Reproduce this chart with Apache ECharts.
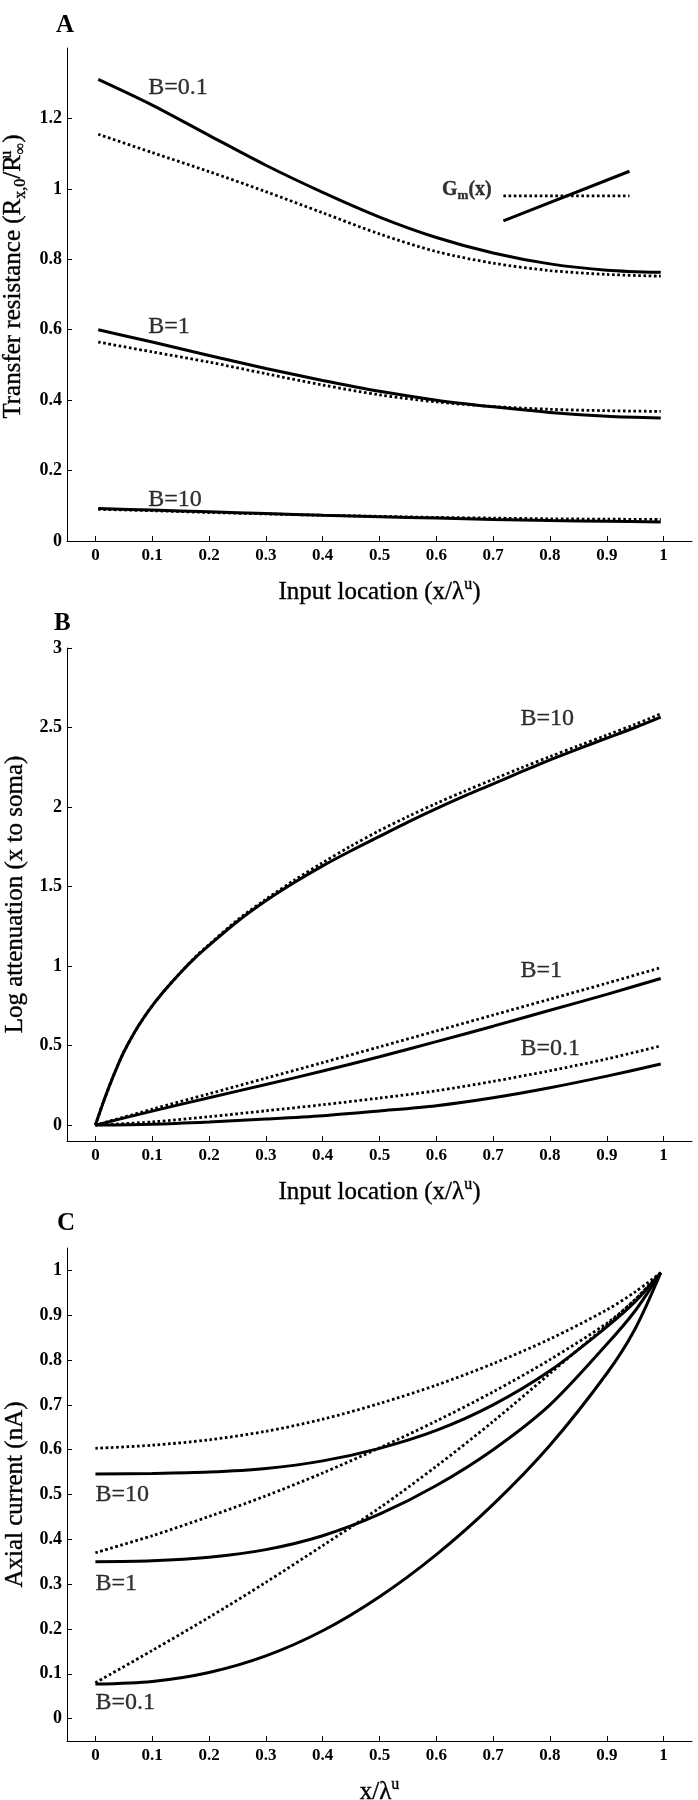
<!DOCTYPE html>
<html><head><meta charset="utf-8">
<script src="https://cdn.jsdelivr.net/npm/echarts@6/dist/echarts.min.js"></script>
<style>html,body{margin:0;padding:0;background:#fff}#c{width:698px;height:1800px}</style>
</head><body><div id="c"></div>
<script>
// ---------- tick labels ----------
const xTicks = [0, 0.1, 0.2, 0.3, 0.4, 0.5, 0.6, 0.7, 0.8, 0.9, 1];
const yTicksA = [0, 0.2, 0.4, 0.6, 0.8, 1, 1.2];
const yTicksB = [0, 0.5, 1, 1.5, 2, 2.5, 3];
const yTicksC = [0, 0.1, 0.2, 0.3, 0.4, 0.5, 0.6, 0.7, 0.8, 0.9, 1];

// ---------- panel A: transfer resistance ----------
const xA = [0.005, 0.1, 0.2, 0.3, 0.4, 0.5, 0.6, 0.7, 0.8, 0.9, 0.995];
const A_B01_solid = [1.311, 1.238, 1.152, 1.067, 0.990, 0.920, 0.862, 0.818, 0.787, 0.769, 0.763];
const A_B01_dot   = [1.155, 1.103, 1.049, 0.992, 0.932, 0.872, 0.822, 0.789, 0.768, 0.757, 0.752];
const A_B1_solid  = [0.600, 0.565, 0.527, 0.490, 0.456, 0.425, 0.400, 0.381, 0.365, 0.354, 0.349];
const A_B1_dot    = [0.565, 0.537, 0.508, 0.475, 0.443, 0.415, 0.395, 0.382, 0.374, 0.370, 0.368];
const A_B10_solid = [0.092, 0.088, 0.083, 0.078, 0.073, 0.069, 0.065, 0.061, 0.058, 0.056, 0.054];
const A_B10_dot   = [0.090, 0.086, 0.081, 0.077, 0.073, 0.070, 0.067, 0.065, 0.063, 0.062, 0.061];
// G_m(x) key: uniform (dotted) and linearly increasing (solid)
const gmKeyX = [0.718, 0.940];
const gmKeyUniform = [0.980, 0.980];
const gmKeyLinear  = [0.909, 1.050];

// ---------- panel B: log attenuation ----------
const xB10 = [0, 0.0125, 0.025, 0.0375, 0.05, 0.075, 0.1, 0.125, 0.15, 0.175, 0.2, 0.25, 0.3, 0.35, 0.4, 0.45, 0.5,
              0.55, 0.6, 0.65, 0.7, 0.75, 0.8, 0.85, 0.9, 0.95, 0.995];
const B_B10_solid = [0, 0.13, 0.25, 0.36, 0.46, 0.62, 0.75, 0.86, 0.96, 1.05, 1.13, 1.28, 1.41, 1.525, 1.63, 1.725, 1.815,
                     1.905, 1.99, 2.07, 2.145, 2.222, 2.296, 2.366, 2.433, 2.50, 2.565];
const B_B10_dot   = [0, 0.13, 0.25, 0.36, 0.46, 0.62, 0.75, 0.86, 0.96, 1.055, 1.135, 1.29, 1.42, 1.54, 1.65, 1.755, 1.852,
                     1.94, 2.023, 2.10, 2.174, 2.247, 2.317, 2.385, 2.452, 2.52, 2.586];
const xB = [0, 0.1, 0.2, 0.3, 0.4, 0.5, 0.6, 0.7, 0.8, 0.9, 0.995];
const B_B1_solid  = [0, 0.088, 0.172, 0.255, 0.340, 0.430, 0.525, 0.622, 0.722, 0.822, 0.922];
const B_B1_dot    = [0, 0.100, 0.197, 0.295, 0.393, 0.492, 0.592, 0.692, 0.792, 0.892, 0.990];
const B_B01_solid = [0, 0.006, 0.020, 0.038, 0.059, 0.089, 0.122, 0.172, 0.235, 0.308, 0.384];
const B_B01_dot   = [0, 0.020, 0.053, 0.090, 0.128, 0.170, 0.216, 0.275, 0.342, 0.416, 0.498];

// ---------- panel C: axial current ----------
const xC = [0, 0.1, 0.2, 0.3, 0.4, 0.5, 0.6, 0.7, 0.8, 0.9, 0.95, 0.995];
const C_B10_dot   = [0.603, 0.610, 0.622, 0.641, 0.668, 0.703, 0.744, 0.792, 0.847, 0.912, 0.952, 0.995];
const C_B10_solid = [0.546, 0.547, 0.550, 0.558, 0.575, 0.603, 0.643, 0.700, 0.776, 0.874, 0.930, 0.995];
const C_B1_dot    = [0.370, 0.408, 0.451, 0.497, 0.548, 0.604, 0.664, 0.729, 0.801, 0.882, 0.935, 0.995];
const C_B1_solid  = [0.350, 0.352, 0.360, 0.377, 0.408, 0.456, 0.520, 0.600, 0.700, 0.835, 0.910, 0.995];
const C_B01_dot   = [0.080, 0.152, 0.226, 0.304, 0.386, 0.470, 0.563, 0.663, 0.770, 0.878, 0.935, 0.995];
const C_B01_solid = [0.077, 0.083, 0.103, 0.140, 0.196, 0.272, 0.366, 0.478, 0.610, 0.770, 0.870, 0.995];

// ---------- curve labels [x, y, text] ----------
const labelsA = [[0.093, 1.288, 'B=0.1'], [0.093, 0.609, 'B=1'], [0.093, 0.118, 'B=10']];
const labelsB = [[0.748, 2.554, 'B=10'], [0.748, 0.972, 'B=1'], [0.748, 0.483, 'B=0.1']];
const labelsC = [[0.0, 0.500, 'B=10'], [0.0, 0.301, 'B=1'], [0.0, 0.035, 'B=0.1']];
const gmLabel = [[0.61, 0.996, 'Gm(x)']];

const FONT = '"Liberation Serif","Times New Roman",Times,serif';
const BLACK = '#000';
const chart = echarts.init(document.getElementById('c'), null, {renderer: 'canvas'});
const pairs = (xs, ys) => xs.map((x, i) => [x, ys[i]]);

const tops = [48, 648, 1248];
const grid = tops.map(t => ({left: 67, right: 6, top: t, height: 493, containLabel: false, outerBoundsMode: 'none'}));

const ink = {textBorderColor: BLACK, textBorderWidth: 0.35};
const richBase = {
  t: Object.assign({fontFamily: FONT, fontSize: 25, color: BLACK, lineHeight: 30}, ink),
  s: Object.assign({fontFamily: FONT, fontSize: 16, color: BLACK, lineHeight: 16, verticalAlign: 'top'}, ink),
  b: Object.assign({fontFamily: FONT, fontSize: 16, color: BLACK, lineHeight: 16, verticalAlign: 'bottom'}, ink),
  su: Object.assign({fontFamily: FONT, fontSize: 16, color: BLACK, lineHeight: 16, verticalAlign: 'top', width: 1}, ink)
};

function xAxis(i, name) {
  return {
    gridIndex: i, type: 'value', min: -0.05, max: 1.05,
    name: name, nameLocation: 'middle', nameGap: 36,
    nameTextStyle: {rich: richBase},
    axisLine: {show: true, onZero: false, lineStyle: {color: BLACK, width: 1}},
    axisTick: {show: true, inside: true, length: 5, customValues: xTicks, lineStyle: {color: BLACK, width: 1}},
    axisLabel: {customValues: xTicks, color: BLACK, fontFamily: FONT, fontWeight: 'bold', fontSize: 17, margin: 6},
    splitLine: {show: false}
  };
}
function yAxis(i, min, max, ticks, name, gap, pad) {
  return {
    gridIndex: i, type: 'value', min: min, max: max,
    name: name, nameLocation: 'middle', nameGap: gap,
    nameTextStyle: {rich: richBase, padding: pad || 0},
    axisLine: {show: true, onZero: false, lineStyle: {color: BLACK, width: 1}},
    axisTick: {show: true, inside: true, length: 5, customValues: ticks, lineStyle: {color: BLACK, width: 1}},
    axisLabel: {customValues: ticks, color: BLACK, fontFamily: FONT, fontWeight: 'bold', fontSize: 18, margin: 5},
    splitLine: {show: false}
  };
}
function line(i, xs, ys, dotted) {
  return {
    type: 'line', xAxisIndex: i, yAxisIndex: i, data: pairs(xs, ys),
    smooth: 0.3, symbol: 'none', showSymbol: false, silent: true, animation: false,
    lineStyle: dotted ? {color: BLACK, width: 2.8, type: [2.6, 2.6], cap: 'butt'}
                      : {color: BLACK, width: 3, cap: 'butt'},
    z: dotted ? 3 : 2
  };
}
function straight(i, xs, ys, dotted) {
  const s = line(i, xs, ys, dotted); s.smooth = false; return s;
}
function labels(i, items, fmt, rich, size) {
  return {
    type: 'scatter', xAxisIndex: i, yAxisIndex: i, data: items, symbolSize: 0,
    silent: true, animation: false,
    label: Object.assign({show: true, position: 'right', distance: 0, color: BLACK, fontFamily: FONT,
            fontSize: size || 24, formatter: fmt || (p => p.value[2]), rich: rich}, ink)
  };
}

const option = {
  backgroundColor: '#fff',
  animation: false,
  title: [
    {text: 'A', left: 56, top: 13},
    {text: 'B', left: 54, top: 611},
    {text: 'C', left: 57, top: 1211}
  ].map(t => Object.assign(t, {textStyle: {fontFamily: FONT, fontWeight: 'bold', fontSize: 25, color: BLACK}, padding: 0})),
  grid: grid,
  xAxis: [
    xAxis(0, '{t|Input location (x/λ}{s|u}{t|)}'),
    xAxis(1, '{t|Input location (x/λ}{s|u}{t|)}'),
    xAxis(2, '{t|x/λ}{s|u}')
  ],
  yAxis: [
    yAxis(0, 0, 1.4, yTicksA, '{t|Transfer resistance (R}{b|x,0}{t|/R}{su|u}{b|∞}{t|)}', 27, [0, 0, 0, 36]),
    yAxis(1, -0.1, 3, yTicksB, '{t|Log attenuation (x to soma)}', 27),
    yAxis(2, -0.05, 1.05, yTicksC, '{t|Axial current (nA)}', 30)
  ],
  series: [
    line(0, xA, A_B01_solid, false), line(0, xA, A_B01_dot, true),
    line(0, xA, A_B1_solid, false),  line(0, xA, A_B1_dot, true),
    line(0, xA, A_B10_solid, false), line(0, xA, A_B10_dot, true),
    straight(0, gmKeyX, gmKeyUniform, true), straight(0, gmKeyX, gmKeyLinear, false),
    labels(0, labelsA),
    labels(0, gmLabel, () => '{g|G}{m|m}{g|(x)}', {
      g: Object.assign({fontFamily: FONT, fontSize: 20, fontWeight: 'bold', color: BLACK, lineHeight: 24}, ink),
      m: Object.assign({fontFamily: FONT, fontSize: 13, fontWeight: 'bold', color: BLACK, lineHeight: 13, verticalAlign: 'bottom'}, ink)
    }),
    line(1, xB10, B_B10_solid, false), line(1, xB10, B_B10_dot, true),
    line(1, xB, B_B1_solid, false),    line(1, xB, B_B1_dot, true),
    line(1, xB, B_B01_solid, false),   line(1, xB, B_B01_dot, true),
    labels(1, labelsB),
    line(2, xC, C_B10_dot, true),  line(2, xC, C_B10_solid, false),
    line(2, xC, C_B1_dot, true),   line(2, xC, C_B1_solid, false),
    line(2, xC, C_B01_dot, true),  line(2, xC, C_B01_solid, false),
    labels(2, labelsC)
  ]
};
chart.setOption(option);
</script>
</body></html>
